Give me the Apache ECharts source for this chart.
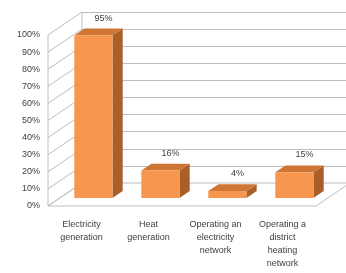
<!DOCTYPE html>
<html><head><meta charset="utf-8">
<script src="https://cdn.jsdelivr.net/npm/echarts@6/dist/echarts.min.js"></script>
<style>html,body{margin:0;padding:0;background:#fff}#c{width:346px;height:273px}</style>
</head><body><div id="c"></div>
<script>
const categories = ['Electricity\ngeneration','Heat\ngeneration','Operating an\nelectricity\nnetwork','Operating a\ndistrict\nheating\nnetwork'];
const values = [95, 16, 4, 15];
const valueLabels = ['95%', '16%', '4%', '15%'];
const yTicks = [0, 10, 20, 30, 40, 50, 60, 70, 80, 90, 100];

const DX = 34, DY = -23;      // full depth of the 3D box
const F1 = 0.35, F2 = 0.65;   // bar front / back depth fraction
const BAR_W = 0.57;
const FRONT = '#F7974F', TOP = '#CF7634', SIDE = '#A95F27';
const WALL_LINE = '#BDBDBD';
const font = "'Liberation Sans Narrow','Liberation Sans',sans-serif";

const chart = echarts.init(document.getElementById('c'), null, {renderer: 'canvas'});

function wallItem(params, api) {
  const v = api.value(0);
  const band = api.size([1, 0])[0];
  const p = api.coord([0, v]);
  const x0 = p[0] - band / 2;
  const y0 = p[1];
  const children = [{
    type: 'line',
    shape: {x1: x0, y1: y0, x2: x0 + DX, y2: y0 + DY},
    style: {stroke: WALL_LINE, lineWidth: 1}
  }];
  if (params.dataIndex === 0) {
    const pTop = api.coord([0, 100]);
    const pEnd = api.coord([categories.length - 1, 0]);
    const x1 = pEnd[0] + band / 2;
    // floor
    children.unshift({
      type: 'polygon',
      shape: {points: [[x0, y0], [x1, y0], [x1 + DX, y0 + DY], [x0 + DX, y0 + DY]]},
      style: {fill: '#fff', stroke: WALL_LINE, lineWidth: 1}
    });
    // left wall edges
    children.push({type: 'line', shape: {x1: x0, y1: pTop[1], x2: x0, y2: y0}, style: {stroke: WALL_LINE, lineWidth: 1}});
    children.push({type: 'line', shape: {x1: x0 + DX, y1: pTop[1] + DY, x2: x0 + DX, y2: y0 + DY}, style: {stroke: WALL_LINE, lineWidth: 1}});
  }
  return {type: 'group', children: children};
}

function barItem(params, api) {
  const i = api.value(0);
  const v = api.value(1);
  const band = api.size([1, 0])[0];
  const pTop = api.coord([i, v]);
  const pBot = api.coord([i, 0]);
  const w = band * BAR_W;
  const ox = DX * F1, oy = DY * F1;
  const bx = DX * (F2 - F1), by = DY * (F2 - F1);
  const xl = pTop[0] - w / 2 + ox, xr = pTop[0] + w / 2 + ox;
  const yt = pTop[1] + oy, yb = pBot[1] + oy;
  return {
    type: 'group',
    children: [
      {type: 'polygon', shape: {points: [[xr, yt], [xr + bx, yt + by], [xr + bx, yb + by], [xr, yb]]}, style: {fill: SIDE}},
      {type: 'polygon', shape: {points: [[xl, yt], [xr, yt], [xr + bx, yt + by], [xl + bx, yt + by]]}, style: {fill: TOP}},
      {type: 'rect', shape: {x: xl, y: yt, width: xr - xl, height: yb - yt}, style: {fill: FRONT}},
      {type: 'text', style: {
        text: valueLabels[params.dataIndex],
        x: (xl + xr) / 2 + bx, y: yt + by - 6,
        align: 'center', verticalAlign: 'bottom',
        font: '9px ' + font, fill: '#404040'
      }}
    ]
  };
}

chart.setOption({
  animation: false,
  backgroundColor: '#fff',
  grid: [
    {left: 48 + DX, top: 35 + DY, width: 268, height: 171},
    {left: 48, top: 35, width: 268, height: 171}
  ],
  xAxis: [
    {gridIndex: 0, type: 'category', data: categories, show: false},
    {gridIndex: 1, type: 'category', data: categories,
     axisLine: {show: false}, axisTick: {show: false},
     axisLabel: {interval: 0, margin: 12, fontSize: 9, lineHeight: 13, color: '#404040', fontFamily: font}}
  ],
  yAxis: [
    {gridIndex: 0, type: 'value', min: 0, max: 100, interval: 10,
     axisLine: {show: false}, axisTick: {show: false}, axisLabel: {show: false},
     splitLine: {lineStyle: {color: WALL_LINE, width: 1}}},
    {gridIndex: 1, type: 'value', min: 0, max: 100, interval: 10,
     axisLine: {show: false}, axisTick: {show: false}, splitLine: {show: false},
     axisLabel: {formatter: '{value}%', margin: 8, fontSize: 9, color: '#404040', fontFamily: font}}
  ],
  series: [
    {type: 'custom', xAxisIndex: 1, yAxisIndex: 1, renderItem: wallItem,
     data: yTicks.map(v => [v]), encode: {y: 0}, z: 1, silent: true},
    {type: 'custom', xAxisIndex: 1, yAxisIndex: 1, renderItem: barItem,
     data: values.map((v, i) => [i, v]), encode: {x: 0, y: 1}, z: 3, silent: true}
  ]
});
</script></body></html>
